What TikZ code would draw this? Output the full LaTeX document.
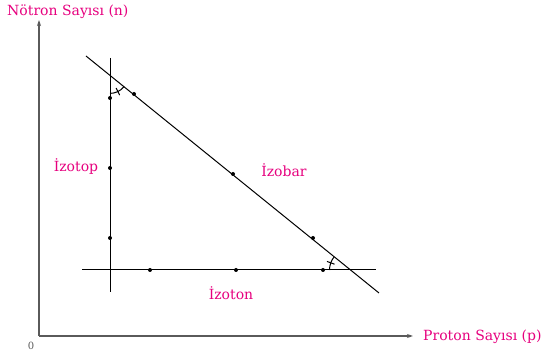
\documentclass[tikz,border=0pt]{standalone}
\usepackage{fontspec}
\setmainfont{DejaVu Serif}
\usetikzlibrary{arrows.meta}
\definecolor{pinkA}{RGB}{230,0,126}
\definecolor{axisgray}{RGB}{90,90,90}
\begin{document}
\begin{tikzpicture}[x=1pt,y=-1pt,
  lbl/.style={text=pinkA, font=\fontsize{14}{16}\selectfont, inner sep=0},
  dot/.style={circle, fill=black, inner sep=0, minimum size=4pt},
  axis/.style={draw=axisgray, line width=1.3pt, -{Stealth[length=6pt,width=4pt]}},
  ln/.style={draw=black, line width=1pt},
  angmark/.style={draw=black, line width=1pt}]
\useasboundingbox (0,0) rectangle (542,355);
% axes
\coordinate (O) at (39,336);
\coordinate (Ytop) at (39,20);
\coordinate (Xend) at (413,336);
\draw[axis] (O) -- (Ytop);
\draw[axis] (O) -- (Xend);
\node[lbl, anchor=west] (nlab) at (7,12) {Nötron Sayısı (n)};
\node[lbl, anchor=west] (plab) at (423,337) {Proton Sayısı (p)};
\node[text=axisgray, font=\fontsize{10}{12}\selectfont, inner sep=0] (zero) at (31,346) {0};
% lines
\coordinate (vA) at (110,58);
\coordinate (vB) at (110,292);
\coordinate (hA) at (82,270);
\coordinate (hB) at (376,270);
\coordinate (dA) at (86,56);
\coordinate (dB) at (379,293);
\draw[ln] (vA) -- (vB);
\draw[ln] (hA) -- (hB);
\draw[ln] (dA) -- (dB);
% dots
\node[dot] (v1) at (110,98) {};
\node[dot] (v2) at (110,168) {};
\node[dot] (v3) at (110,238) {};
\node[dot] (h1) at (150,270) {};
\node[dot] (h2) at (236,270) {};
\node[dot] (h3) at (323,270) {};
\node[dot] (d1) at (134,94) {};
\node[dot] (d2) at (233,174) {};
\node[dot] (d3) at (313,238) {};
% angle marks
\coordinate (P1) at (110,75.4);
\coordinate (P2) at (350.5,270);
\draw[angmark] (P1) ++(90:18) arc[start angle=90, end angle=39, radius=18];
\draw[angmark] (P1) ++(64:14) -- ++(64:8);
\draw[angmark] (P2) ++(180:21) arc[start angle=180, end angle=219, radius=21];
\draw[angmark] (P2) ++(200:17) -- ++(200:8);
% labels
\node[lbl] (iztp) at (76,167) {İzotop};
\node[lbl] (izbr) at (284,170) {İzobar};
\node[lbl] (iztn) at (231,293) {İzoton};
\end{tikzpicture}
\end{document}
